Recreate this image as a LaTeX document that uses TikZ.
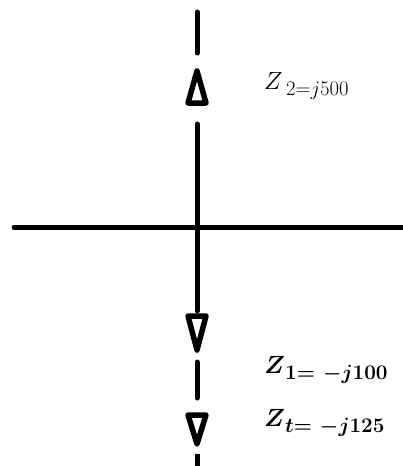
\documentclass[tikz,border=0pt]{standalone}
\usepackage{amsmath,bm}
\newcommand{\zsubtxt}[2][20]{\raisebox{-6pt}{\fontsize{#1}{22}\selectfont#2}}
\begin{document}
\begin{tikzpicture}[x=1pt,y=-1pt,
  wire/.style={line width=5pt,line cap=round},
  tri/.style={line width=5.5pt,line join=round},
  lbl/.style={anchor=base west,inner sep=0pt,font=\fontsize{27}{30}\selectfont}]
\useasboundingbox (0,0) rectangle (403,466);
% horizontal line
\draw[wire] (14,227.5) -- (403,227.5);
% vertical segments
\draw[wire] (197,12) -- (197,53);
\draw[wire] (197,124) -- (197,311);
\draw[wire] (197,362) -- (197,398);
\draw[line width=5pt] (197,454) -- (197,466);
% triangles
\draw[tri] (197,71) -- (206,103) -- (188,103) -- cycle;
\draw[tri] (197,350) -- (206,316) -- (188,316) -- cycle;
\draw[tri] (197,444) -- (206,415) -- (188,415) -- cycle;
% labels
\node[lbl] (z2) at (264,89) {$Z$\zsubtxt[21]{$\,2{=}j500$}};
\node[lbl] (z1) at (264,373) {$\bm{Z}$\zsubtxt[20]{$\bm{1{=}\mkern7mu{-}j100}$}};
\node[lbl] (zt) at (264,426) {$\bm{Z}$\zsubtxt[20]{$\bm{t{=}\mkern7mu{-}j125}$}};
\end{tikzpicture}
\end{document}
